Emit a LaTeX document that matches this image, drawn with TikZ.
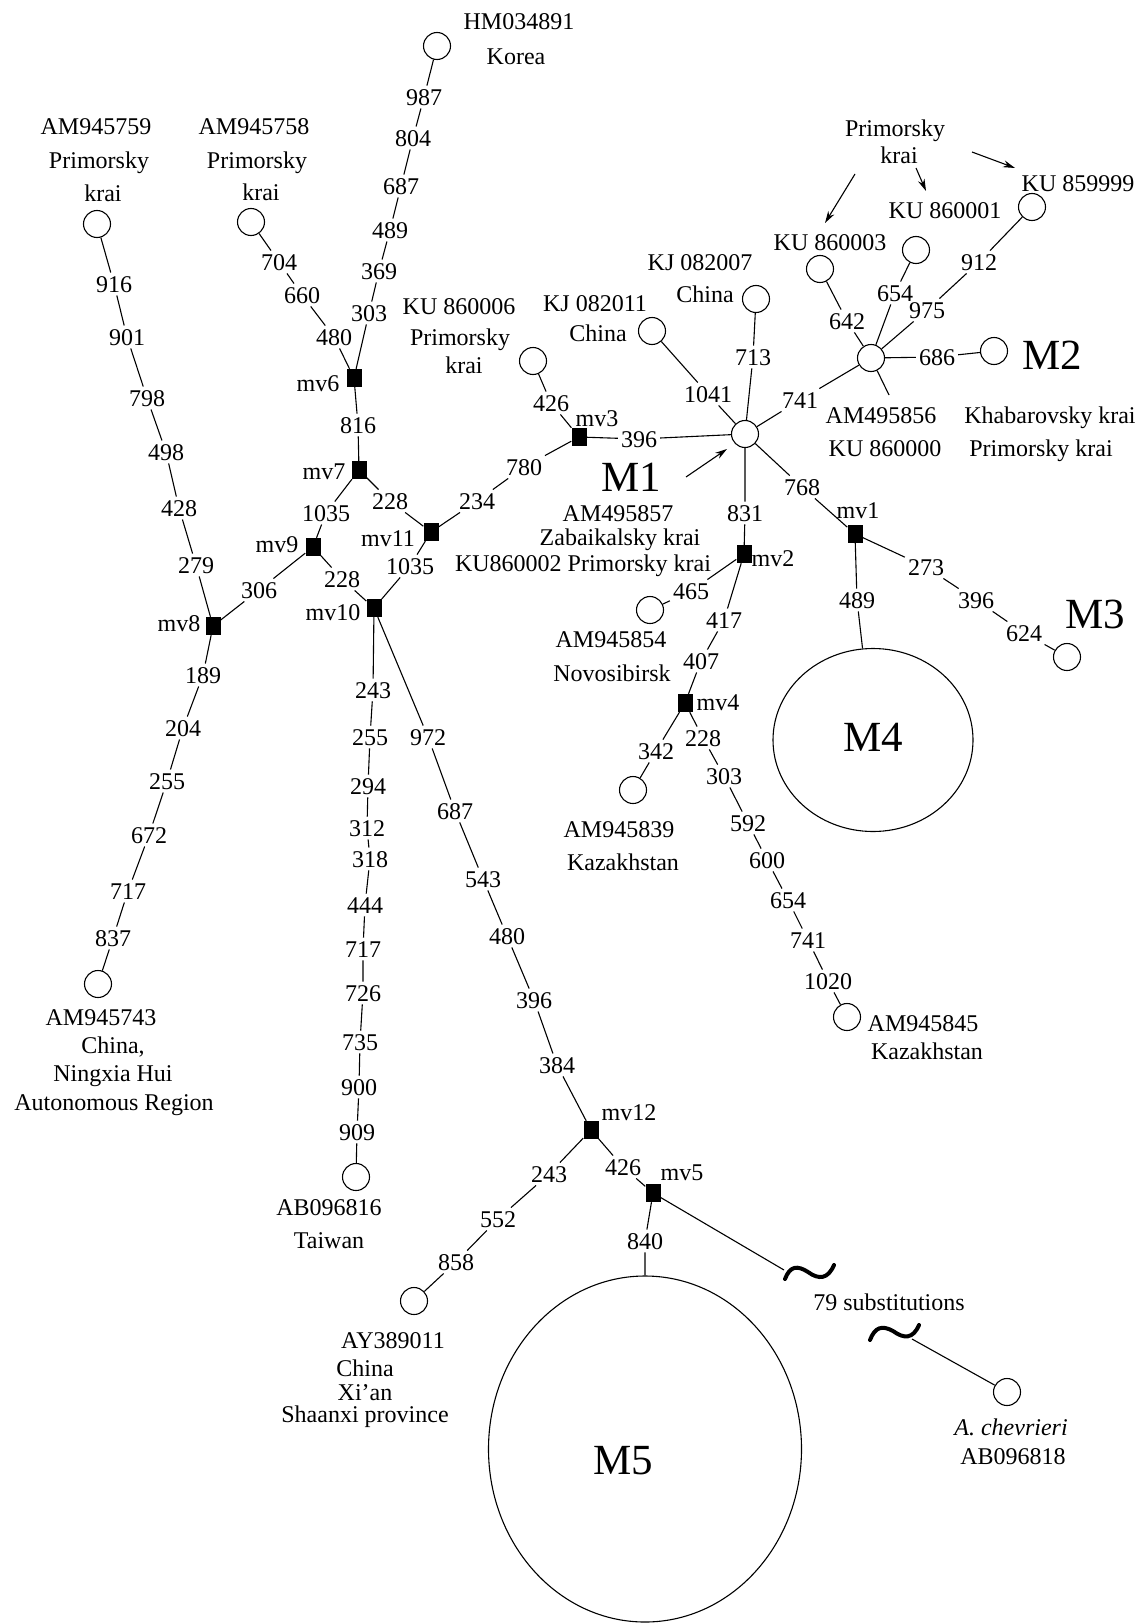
\documentclass[tikz,border=0pt]{standalone}
\usepackage{fontspec}
\setmainfont{Liberation Serif}
\usetikzlibrary{arrows.meta,shapes.geometric}
\begin{document}
\begin{tikzpicture}[x=1pt,y=-1pt,
  lbl/.style={font=\fontsize{24}{28}\selectfont, inner sep=0pt, text height=16.5pt, text depth=0pt},
  mut/.style={font=\fontsize{24}{28}\selectfont, inner sep=3pt, text height=16.5pt, text depth=0pt},
  big/.style={font=\fontsize{43}{48}\selectfont, inner sep=0pt, text height=29pt, text depth=0pt},
  hap/.style={circle, draw, fill=white, line width=1.1pt, minimum size=27pt, inner sep=0pt},
  mvn/.style={rectangle, fill=black, minimum width=15pt, minimum height=18pt, inner sep=0pt},
  bigell/.style={ellipse, draw, line width=1.1pt, inner sep=0pt},
  edge/.style={line width=1.1pt},
  arr/.style={line width=1.1pt, -{Stealth[length=12pt,width=7pt]}},
  tld/.style={line width=4pt, line cap=round}]
\useasboundingbox (0,0) rectangle (1141,1624);

% haplotypes
\node[hap] (hHM) at (437,46) {};
\node[hap] (h759) at (97,224) {};
\node[hap] (h758) at (251,222) {};
\node[hap] (h006) at (533,361) {};
\node[hap] (h011) at (652,331) {};
\node[hap] (h007) at (756,299) {};
\node[hap] (h003) at (820,269) {};
\node[hap] (h001) at (916,250) {};
\node[hap] (h999) at (1032,207) {};
\node[hap] (M1) at (745,434) {};
\node[hap] (M2c) at (871,358) {};
\node[hap] (hM2) at (994,351) {};
\node[hap] (h854) at (650,610) {};
\node[hap] (h839) at (633,790) {};
\node[hap] (h845) at (847,1017) {};
\node[hap] (hM3) at (1067,657) {};
\node[hap] (h743) at (98,984) {};
\node[hap] (h816) at (356,1177) {};
\node[hap] (hAY) at (414,1301) {};
\node[hap] (hchev) at (1007,1392) {};
\node[bigell, minimum width=200pt, minimum height=183pt] (M4) at (873,740) {};
\node[bigell, minimum width=313pt, minimum height=346pt] (M5) at (645,1449) {};

% median vectors
\node[mvn] (mv1) at (855,534) {};
\node[mvn] (mv2) at (744,554) {};
\node[mvn] (mv3) at (579,437) {};
\node[mvn] (mv4) at (685,703) {};
\node[mvn] (mv5) at (653,1193) {};
\node[mvn] (mv6) at (354,378) {};
\node[mvn] (mv7) at (359,470) {};
\node[mvn] (mv8) at (213,626) {};
\node[mvn] (mv9) at (313,547) {};
\node[mvn] (mv10) at (374,608) {};
\node[mvn] (mv11) at (431,532) {};
\node[mvn] (mv12) at (591,1130) {};

\node[lbl] (lmv1) at (858,510) {mv1};
\node[lbl] (lmv2) at (773,558) {mv2};
\node[lbl] (lmv3) at (597,418) {mv3};
\node[lbl] (lmv4) at (718,702) {mv4};
\node[lbl] (lmv5) at (682,1172) {mv5};
\node[lbl] (lmv6) at (318,383) {mv6};
\node[lbl] (lmv7) at (324,471) {mv7};
\node[lbl] (lmv8) at (179,623) {mv8};
\node[lbl] (lmv9) at (277,544) {mv9};
\node[lbl] (lmv10) at (333,612) {mv10};
\node[lbl] (lmv11) at (388,538) {mv11};
\node[lbl] (lmv12) at (629,1112) {mv12};

% mutation labels
\node[mut] (a303) at (369,313) {303};
\node[mut] (a369) at (379,271) {369};
\node[mut] (a489) at (390,230) {489};
\node[mut] (a687) at (401,186) {687};
\node[mut] (a804) at (413,138) {804};
\node[mut] (a987) at (424,97) {987};
\node[mut] (b480) at (334,337) {480};
\node[mut] (b660) at (302,295) {660};
\node[mut] (b704) at (279,262) {704};
\node[mut] (c816) at (358,425) {816};
\node[mut] (d228) at (390,501) {228};
\node[mut] (e1035) at (326,513) {1035};
\node[mut] (f1035) at (410,566) {1035};
\node[mut] (g228) at (342,579) {228};
\node[mut] (h306) at (259,590) {306};
\node[mut] (i234) at (477,501) {234};
\node[mut] (i780) at (524,467) {780};
\node[mut] (j426) at (551,403) {426};
\node[mut] (k396) at (639,439) {396};
\node[mut] (l279) at (196,565) {279};
\node[mut] (l428) at (179,508) {428};
\node[mut] (l498) at (166,452) {498};
\node[mut] (l798) at (147,398) {798};
\node[mut] (l901) at (127,337) {901};
\node[mut] (l916) at (114,284) {916};
\node[mut] (n189) at (203,675) {189};
\node[mut] (n204) at (183,728) {204};
\node[mut] (n255) at (167,781) {255};
\node[mut] (n672) at (149,835) {672};
\node[mut] (n717) at (128,891) {717};
\node[mut] (n837) at (113,938) {837};
\node[mut] (p243) at (373,690) {243};
\node[mut] (p255) at (370,737) {255};
\node[mut] (p294) at (368,786) {294};
\node[mut] (p312) at (367,828) {312};
\node[mut] (p318) at (370,859) {318};
\node[mut] (p444) at (365,905) {444};
\node[mut] (p717) at (363,949) {717};
\node[mut] (p726) at (363,993) {726};
\node[mut] (p735) at (360,1042) {735};
\node[mut] (p900) at (359,1087) {900};
\node[mut] (p909) at (357,1132) {909};
\node[mut] (q972) at (428,737) {972};
\node[mut] (q687) at (455,811) {687};
\node[mut] (q543) at (483,879) {543};
\node[mut] (q480) at (507,936) {480};
\node[mut] (q396) at (534,1000) {396};
\node[mut] (q384) at (557,1065) {384};
\node[mut] (r243) at (549,1174) {243};
\node[mut] (r552) at (498,1219) {552};
\node[mut] (r858) at (456,1262) {858};
\node[mut] (s426) at (623,1167) {426};
\node[mut] (s840) at (645,1241) {840};
\node[mut] (u1041) at (708,394) {1041};
\node[mut] (u713) at (753,357) {713};
\node[mut] (u741) at (800,400) {741};
\node[mut] (u831) at (745,513) {831};
\node[mut] (u768) at (802,487) {768};
\node[mut] (v642) at (847,321) {642};
\node[mut] (v654) at (895,293) {654};
\node[mut] (v975) at (927,310) {975};
\node[mut] (v912) at (979,262) {912};
\node[mut] (v686) at (937,357) {686};
\node[mut] (w465) at (691,591) {465};
\node[mut] (w417) at (724,620) {417};
\node[mut] (w407) at (701,661) {407};
\node[mut] (x342) at (656,751) {342};
\node[mut] (x228) at (703,738) {228};
\node[mut] (x303) at (724,776) {303};
\node[mut] (x592) at (748,823) {592};
\node[mut] (x600) at (767,860) {600};
\node[mut] (x654) at (788,900) {654};
\node[mut] (x741) at (808,940) {741};
\node[mut] (x1020) at (828,981) {1020};
\node[mut] (y489) at (857,600) {489};
\node[mut] (y273) at (926,567) {273};
\node[mut] (y396) at (976,600) {396};
\node[mut] (y624) at (1024,633) {624};

% connectors
\draw[edge] (mv6) -- (a303) -- (a369) -- (a489) -- (a687) -- (a804) -- (a987) -- (hHM);
\draw[edge] (mv6) -- (b480) -- (b660) -- (b704) -- (h758);
\draw[edge] (mv6) -- (c816) -- (mv7);
\draw[edge] (mv7) -- (d228) -- (mv11);
\draw[edge] (mv7) -- (e1035) -- (mv9);
\draw[edge] (mv11) -- (f1035) -- (mv10);
\draw[edge] (mv9) -- (g228) -- (mv10);
\draw[edge] (mv9) -- (h306) -- (mv8);
\draw[edge] (mv11) -- (i234) -- (i780) -- (mv3);
\draw[edge] (mv3) -- (j426) -- (h006);
\draw[edge] (mv3) -- (k396) -- (M1);
\draw[edge] (mv8) -- (l279) -- (l428) -- (l498) -- (l798) -- (l901) -- (l916) -- (h759);
\draw[edge] (mv8) -- (n189) -- (n204) -- (n255) -- (n672) -- (n717) -- (n837) -- (h743);
\draw[edge] (mv10) -- (p243) -- (p255) -- (p294) -- (p312) -- (p318) -- (p444) -- (p717) -- (p726) -- (p735) -- (p900) -- (p909) -- (h816);
\draw[edge] (mv10) -- (q972) -- (q687) -- (q543) -- (q480) -- (q396) -- (q384) -- (mv12);
\draw[edge] (mv12) -- (r243) -- (r552) -- (r858) -- (hAY);
\draw[edge] (mv12) -- (s426) -- (mv5);
\draw[edge] (mv5) -- (s840) -- (M5);
\coordinate (t1) at (784,1270);
\coordinate (t2) at (912,1339);
\draw[edge] (mv5) -- (t1);
\draw[edge] (t2) -- (hchev);
\draw[edge] (M1) -- (u1041) -- (h011);
\draw[edge] (M1) -- (u713) -- (h007);
\draw[edge] (M1) -- (u741) -- (M2c);
\draw[edge] (M1) -- (u831) -- (mv2);
\draw[edge] (M1) -- (u768) -- (mv1);
\draw[edge] (M2c) -- (v642) -- (h003);
\draw[edge] (M2c) -- (v654) -- (h001);
\draw[edge] (M2c) -- (v975) -- (v912) -- (h999);
\draw[edge] (M2c) -- (v686) -- (hM2);
\coordinate (c56) at (889,395);
\draw[edge] (M2c) -- (c56);
\draw[edge] (mv2) -- (w465) -- (h854);
\draw[edge] (mv2) -- (w417) -- (w407) -- (mv4);
\draw[edge] (mv4) -- (x342) -- (h839);
\draw[edge] (mv4) -- (x228) -- (x303) -- (x592) -- (x600) -- (x654) -- (x741) -- (x1020) -- (h845);
\draw[edge] (mv1) -- (y489) -- (M4);
\draw[edge] (mv1) -- (y273) -- (y396) -- (y624) -- (hM3);

% tildes
\draw[tld] (785,1279) .. controls (790,1266) and (797,1265) .. (808,1272) .. controls (819,1280) and (828,1279) .. (834,1265);
\draw[tld] (870,1340) .. controls (875,1327) and (882,1325) .. (893,1331) .. controls (904,1339) and (913,1339) .. (919,1325);

% big labels
\node[big] (tM1) at (631,477) {M1};
\node[big] (tM2) at (1052,355) {M2};
\node[big] (tM3) at (1095,614) {M3};
\node[big] (tM4) at (873,737) {M4};
\node[big] (tM5) at (623,1460) {M5};

% arrows
\coordinate (ar1s) at (855,174); \coordinate (ar1e) at (825,223);
\coordinate (ar2s) at (916,168); \coordinate (ar2e) at (926,191);
\coordinate (ar3s) at (972,152); \coordinate (ar3e) at (1015,168);
\coordinate (ar4s) at (686,477); \coordinate (ar4e) at (727,449);
\draw[arr] (ar1s) -- (ar1e);
\draw[arr] (ar2s) -- (ar2e);
\draw[arr] (ar3s) -- (ar3e);
\draw[arr] (ar4s) -- (ar4e);

% text labels
\node[lbl] (tHM) at (519,21) {HM034891};
\node[lbl] (tKor) at (516,56) {Korea};
\node[lbl] (t759a) at (96,126) {AM945759};
\node[lbl] (t759b) at (99,160) {Primorsky};
\node[lbl] (t759c) at (103,193) {krai};
\node[lbl] (t758a) at (254,126) {AM945758};
\node[lbl] (t758b) at (257,160) {Primorsky};
\node[lbl] (t758c) at (261,192) {krai};
\node[lbl] (t006a) at (459,306) {KU 860006};
\node[lbl] (t006b) at (460,337) {Primorsky};
\node[lbl] (t006c) at (464,365) {krai};
\node[lbl] (t011a) at (595,303) {KJ 082011};
\node[lbl] (t011b) at (598,333) {China};
\node[lbl] (t007a) at (700,262) {KJ 082007};
\node[lbl] (t007b) at (705,294) {China};
\node[lbl] (t003) at (830,242) {KU 860003};
\node[lbl] (t001) at (945,210) {KU 860001};
\node[lbl] (t999) at (1078,183) {KU 859999};
\node[lbl] (tPa) at (895,128) {Primorsky};
\node[lbl] (tPb) at (899,155) {krai};
\node[lbl] (t856a) at (881,415) {AM495856};
\node[lbl] (t856b) at (885,448) {KU 860000};
\node[lbl] (t856c) at (1050,415) {Khabarovsky krai};
\node[lbl] (t856d) at (1041,448) {Primorsky krai};
\node[lbl] (t857a) at (618,513) {AM495857};
\node[lbl] (t857b) at (620,537) {Zabaikalsky krai};
\node[lbl] (t857c) at (583,563) {KU860002 Primorsky krai};
\node[lbl] (t854a) at (611,639) {AM945854};
\node[lbl] (t854b) at (612,673) {Novosibirsk};
\node[lbl] (t839a) at (619,829) {AM945839};
\node[lbl] (t839b) at (623,862) {Kazakhstan};
\node[lbl] (t845a) at (923,1023) {AM945845};
\node[lbl] (t845b) at (927,1051) {Kazakhstan};
\node[lbl] (t743a) at (101,1017) {AM945743};
\node[lbl] (t743b) at (113,1045) {China,};
\node[lbl] (t743c) at (113,1073) {Ningxia Hui};
\node[lbl] (t743d) at (114,1102) {Autonomous Region};
\node[lbl] (t816a) at (329,1207) {AB096816};
\node[lbl] (t816b) at (329,1240) {Taiwan};
\node[lbl] (tAYa) at (393,1340) {AY389011};
\node[lbl] (tAYb) at (365,1368) {China};
\node[lbl] (tAYc) at (365,1392) {Xi’an};
\node[lbl] (tAYd) at (365,1414) {Shaanxi province};
\node[lbl] (t79) at (889,1302) {79 substitutions};
\node[lbl] (tchev) at (1011,1427) {\itshape A. chevrieri};
\node[lbl] (t818) at (1013,1456) {AB096818};
\end{tikzpicture}
\end{document}
